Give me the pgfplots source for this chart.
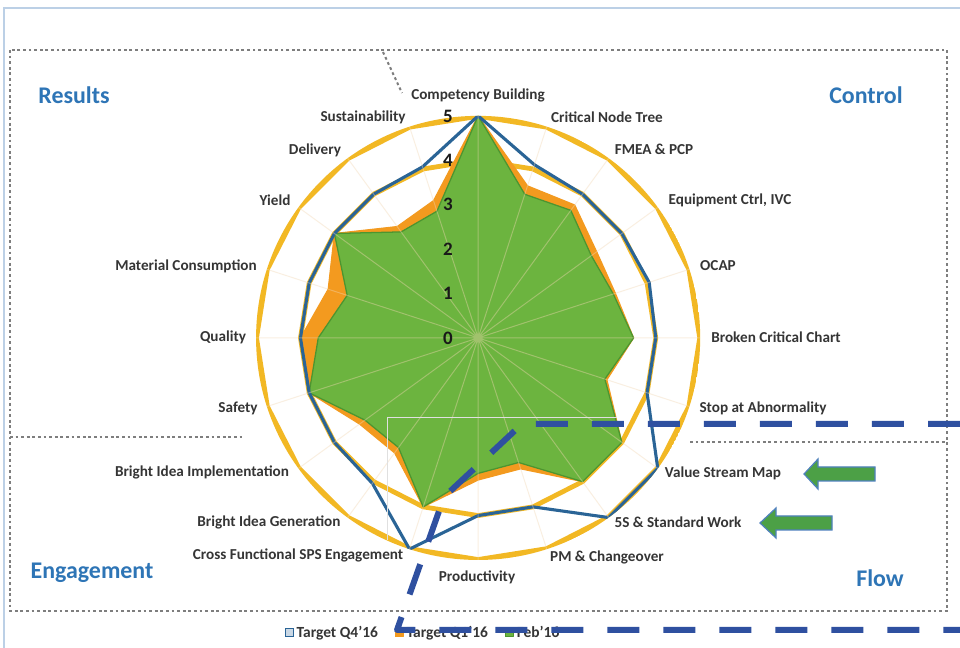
\documentclass[border=0pt]{standalone}
\usepackage{fontspec}
\setmainfont{Carlito}
\usepackage{pgfplots}
\usepackage{pgfplotstable}
\pgfplotsset{compat=1.18}
\usepgfplotslibrary{polar}

\definecolor{gold}{HTML}{F2B824}
\definecolor{tgtblue}{HTML}{2A6496}
\definecolor{tgtorange}{HTML}{F39A1F}
\definecolor{febgreen}{HTML}{6CB43F}
\definecolor{febedge}{HTML}{4C9530}
\definecolor{spoke}{HTML}{F2D7B4}
\definecolor{lbl}{HTML}{353535}
\definecolor{region}{HTML}{2E75B6}
\definecolor{framegray}{HTML}{7E7E7E}
\definecolor{hlblue}{HTML}{2F50A0}
\definecolor{arrowgreen}{HTML}{4CA046}
\definecolor{arrowedge}{HTML}{4F81BD}
\definecolor{winblue}{HTML}{BCD0E6}

% angle (clockwise from top, 18 deg per category), then the three series
\pgfplotstableread{
ang   blue  orange green
90    5     5      5
72    4.1   3.6    3.4
54    4.0   3.7    3.55
36    4.0   3.3    3.15
18    4.05  3.25   3.2
0     4.0   3.5    3.5
-18   4.0   3.05   3.0
-36   5.0   4.0    4.0
-54   5.0   4.0    4.0
-72   4.0   3.1    2.95
-90   4.0   3.2    3.05
-108  5.0   4.0    4.0
-126  4.05  3.2    3.05
-144  4.0   3.3    3.15
-162  4.0   4.0    4.0
-180  4.0   4.0    3.6
-198  4.0   3.55   3.1
-216  4.0   4.0    4.0
-234  4.0   3.1    2.95
-252  4.05  3.25   3.0
-270  5     5      5
}\scores

\begin{document}
\begin{tikzpicture}[x=0.025cm,y=0.025cm]
\useasboundingbox (0,0) rectangle (960,648);
\fill[white] (0,0) rectangle (960,648);

% frames and separators (pixel coordinates, y downwards)
\begin{scope}[shift={(0,648)},yscale=-1]
  \draw[winblue, line width=0.04cm] (4,648) -- (4,8) -- (960,8);
  \draw[framegray, line width=0.05cm, dash pattern=on 0.07cm off 0.07cm]
    (10,50) rectangle (947,611);
  \draw[framegray, line width=0.05cm, dash pattern=on 0.07cm off 0.07cm]
    (10,437) -- (245,437);
  \draw[framegray, line width=0.05cm, dash pattern=on 0.07cm off 0.07cm]
    (690,442) -- (947,442);
  \draw[framegray, line width=0.05cm, dash pattern=on 0.07cm off 0.07cm]
    (383,52) -- (402,93);
\end{scope}

\begin{polaraxis}[
  at={(11.95cm,7.75cm)}, anchor=center,
  scale only axis, width=11.1cm, height=11.1cm,
  ymin=0, ymax=5,
  xtick={0,18,...,342}, xticklabels={},
  ytick=\empty,
  xmajorgrids=true,
  major grid style={spoke, line width=0.7pt, opacity=0.4},
  axis line style={draw=none},
  tick style={draw=none},
  axis on top,
  legend style={at={(axis description cs:0.377,-0.164)}, anchor=center,
    draw=none, fill=none, legend columns=3,
    font=\fontsize{11}{13}\selectfont\bfseries\color{lbl},
    /tikz/every even column/.append style={column sep=0.35cm}},
  legend image code/.code={\draw[#1, line width=0.8pt] (0cm,-0.1cm) rectangle (0.2cm,0.1cm);},
]
\addlegendimage{tgtblue, fill=tgtblue!25, line width=1.2pt}
\addlegendentry{Target Q4'16}
\addplot[forget plot, gold, line width=4pt, line join=round]
  table[x=ang, y expr=5] {\scores};
\addplot[forget plot, gold, line width=3.4pt, line join=round]
  table[x=ang, y expr=4] {\scores};
\addplot[tgtorange, fill=tgtorange, line width=0.8pt, line join=round]
  table[x=ang, y=orange] {\scores};
\addlegendentry{Target Q1'16}
\addplot[febedge, fill=febgreen, line width=0.9pt, line join=round]
  table[x=ang, y=green] {\scores};
\addlegendentry{Feb'16}
\addplot[forget plot, tgtblue, line width=2.2pt, line join=round]
  table[x=ang, y=blue] {\scores};
\end{polaraxis}

\begin{scope}[shift={(0,648)},yscale=-1]
  % radial scale labels
  \foreach \v in {0,...,5}
    \node[font=\fontsize{13.5}{15}\selectfont\bfseries, text=black!90] at (448,{338-44.4*\v}) {\v};
  % category labels
  \begin{scope}[every node/.style={font=\fontsize{10.8}{12}\selectfont\bfseries, text=lbl, inner sep=0pt}]
    \node at (478,95) {Competency Building};
    \node at (607,117) {Critical Node Tree};
    \node at (654,149) {FMEA \& PCP};
    \node at (730,200) {Equipment Ctrl, IVC};
    \node at (718,266) {OCAP};
    \node at (776,337) {Broken Critical Chart};
    \node at (763,408) {Stop at Abnormality};
    \node at (723,473) {Value Stream Map};
    \node at (678,522) {5S \& Standard Work};
    \node at (607,557) {PM \& Changeover};
    \node at (477,577) {Productivity};
    \node at (298,555) {Cross Functional SPS Engagement};
    \node at (269,522) {Bright Idea Generation};
    \node at (202,472) {Bright Idea Implementation};
    \node at (238,408) {Safety};
    \node at (223,337) {Quality};
    \node at (186,266) {Material Consumption};
    \node at (275,200) {Yield};
    \node at (315,150) {Delivery};
    \node at (363,117) {Sustainability};
  \end{scope}
  % region titles
  \begin{scope}[every node/.style={font=\fontsize{17}{19}\selectfont\bfseries, text=region, inner sep=0pt}]
    \node at (74,95) {Results};
    \node at (866,95) {Control};
    \node at (92,573) {Engagement};
    \node at (880,578) {Flow};
  \end{scope}
  % faint pasted box
  \draw[black!12, line width=0.02cm] (387,540) -- (387,417) -- (617,417);
  % blue dashed highlight
  \draw[hlblue, line width=0.15cm, dash pattern=on 0.8cm off 0.6cm, line join=round]
    (960,424) -- (522,424) -- (444,497) -- (397,630) -- (960,630);
  % green arrows
  \draw[arrowedge, fill=arrowgreen, line width=0.03cm]
    (804,474) -- (818,459) -- (818,467) -- (875,467) -- (875,481) -- (818,481) -- (818,489) -- cycle;
  \draw[arrowedge, fill=arrowgreen, line width=0.03cm]
    (760,523) -- (776,508) -- (776,516) -- (832,516) -- (832,530) -- (776,530) -- (776,538) -- cycle;
\end{scope}
\end{tikzpicture}
\end{document}
